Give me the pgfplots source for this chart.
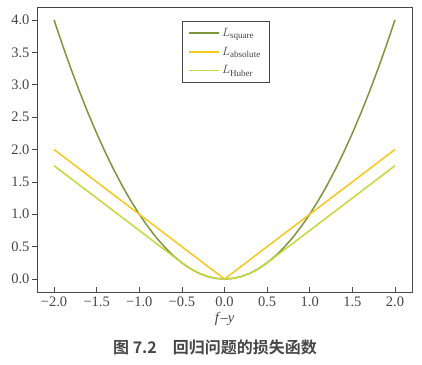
\documentclass[border=0pt]{standalone}
\usepackage{pgfplots}
\pgfplotsset{compat=1.18}
\usepackage{fontspec}
\setmainfont{Liberation Serif}
\newfontfamily\cjk{Noto Sans CJK SC}[BoldFont={Noto Sans CJK SC Bold}]
\definecolor{csq}{RGB}{125,150,62}
\definecolor{cab}{RGB}{246,200,30}
\definecolor{chu}{RGB}{198,215,60}
\definecolor{axgray}{RGB}{70,70,70}
\begin{document}
\begin{tikzpicture}
\begin{axis}[
  at={(0,0)}, anchor=south west,
  scale only axis, width=375pt, height=285pt,
  xmin=-2.2, xmax=2.2, ymin=-0.2, ymax=4.2,
  xtick={-2,-1.5,-1,-0.5,0,0.5,1,1.5,2},
  xticklabels={−2.0,−1.5,−1.0,−0.5,0.0,0.5,1.0,1.5,2.0},
  ytick={0,0.5,1,1.5,2,2.5,3,3.5,4},
  yticklabels={0.0,0.5,1.0,1.5,2.0,2.5,3.0,3.5,4.0},
  ticklabel style={font=\fontsize{14.5}{16}\selectfont, text=axgray},
  axis line style={axgray, line width=0.6pt},
  tick style={axgray, line width=0.6pt},
  ytick pos=left, xtick pos=bottom,
  xtick align=inside, ytick align=outside,
  major tick length=5pt,
  x tick label style={yshift=-1pt},
  y tick label style={xshift=1pt},
  xlabel={\fontsize{14.5}{16}\selectfont\textit{f}–\textit{y}},
  xlabel style={text=axgray, yshift=1pt},
  legend style={at={(rel axis cs:0.387,0.951)}, anchor=north west,
    draw=axgray, line width=0.6pt, font=\fontsize{13}{15}\selectfont,
    row sep=5pt, inner xsep=6pt, inner ysep=5pt, text=axgray},
  legend cell align=left,
  legend image code/.code={\draw[#1, line width=1.6pt] (0pt,0pt) -- (30pt,0pt);},
]
\addplot[color=csq, line width=1.5pt] coordinates {
(-2,4)(-1.9,3.61)(-1.8,3.24)(-1.7,2.89)(-1.6,2.56)(-1.5,2.25)(-1.4,1.96)(-1.3,1.69)(-1.2,1.44)(-1.1,1.21)
(-1,1)(-0.9,0.81)(-0.8,0.64)(-0.7,0.49)(-0.6,0.36)(-0.5,0.25)(-0.4,0.16)(-0.3,0.09)(-0.2,0.04)(-0.1,0.01)
(0,0)(0.1,0.01)(0.2,0.04)(0.3,0.09)(0.4,0.16)(0.5,0.25)(0.6,0.36)(0.7,0.49)(0.8,0.64)(0.9,0.81)
(1,1)(1.1,1.21)(1.2,1.44)(1.3,1.69)(1.4,1.96)(1.5,2.25)(1.6,2.56)(1.7,2.89)(1.8,3.24)(1.9,3.61)(2,4)};
\addlegendentry{$L_{\mathrm{square}}$}
\addplot[color=cab, line width=1.5pt] coordinates {(-2,2)(0,0)(2,2)};
\addlegendentry{$L_{\mathrm{absolute}}$}
\addplot[color=chu, line width=1.5pt] coordinates {
(-2,1.75)(-0.5,0.25)(-0.4,0.16)(-0.3,0.09)(-0.2,0.04)(-0.1,0.01)(0,0)
(0.1,0.01)(0.2,0.04)(0.3,0.09)(0.4,0.16)(0.5,0.25)(2,1.75)};
\addlegendentry{$L_{\mathrm{Huber}}$}
\end{axis}
\node[font=\cjk\bfseries\fontsize{16}{18}\selectfont, text=axgray] at (178pt,-55pt) {图 7.2\hspace{1em}回归问题的损失函数};
\pgfresetboundingbox
\path (-37pt,-72pt) rectangle (385pt,292pt);
\end{tikzpicture}
\end{document}
